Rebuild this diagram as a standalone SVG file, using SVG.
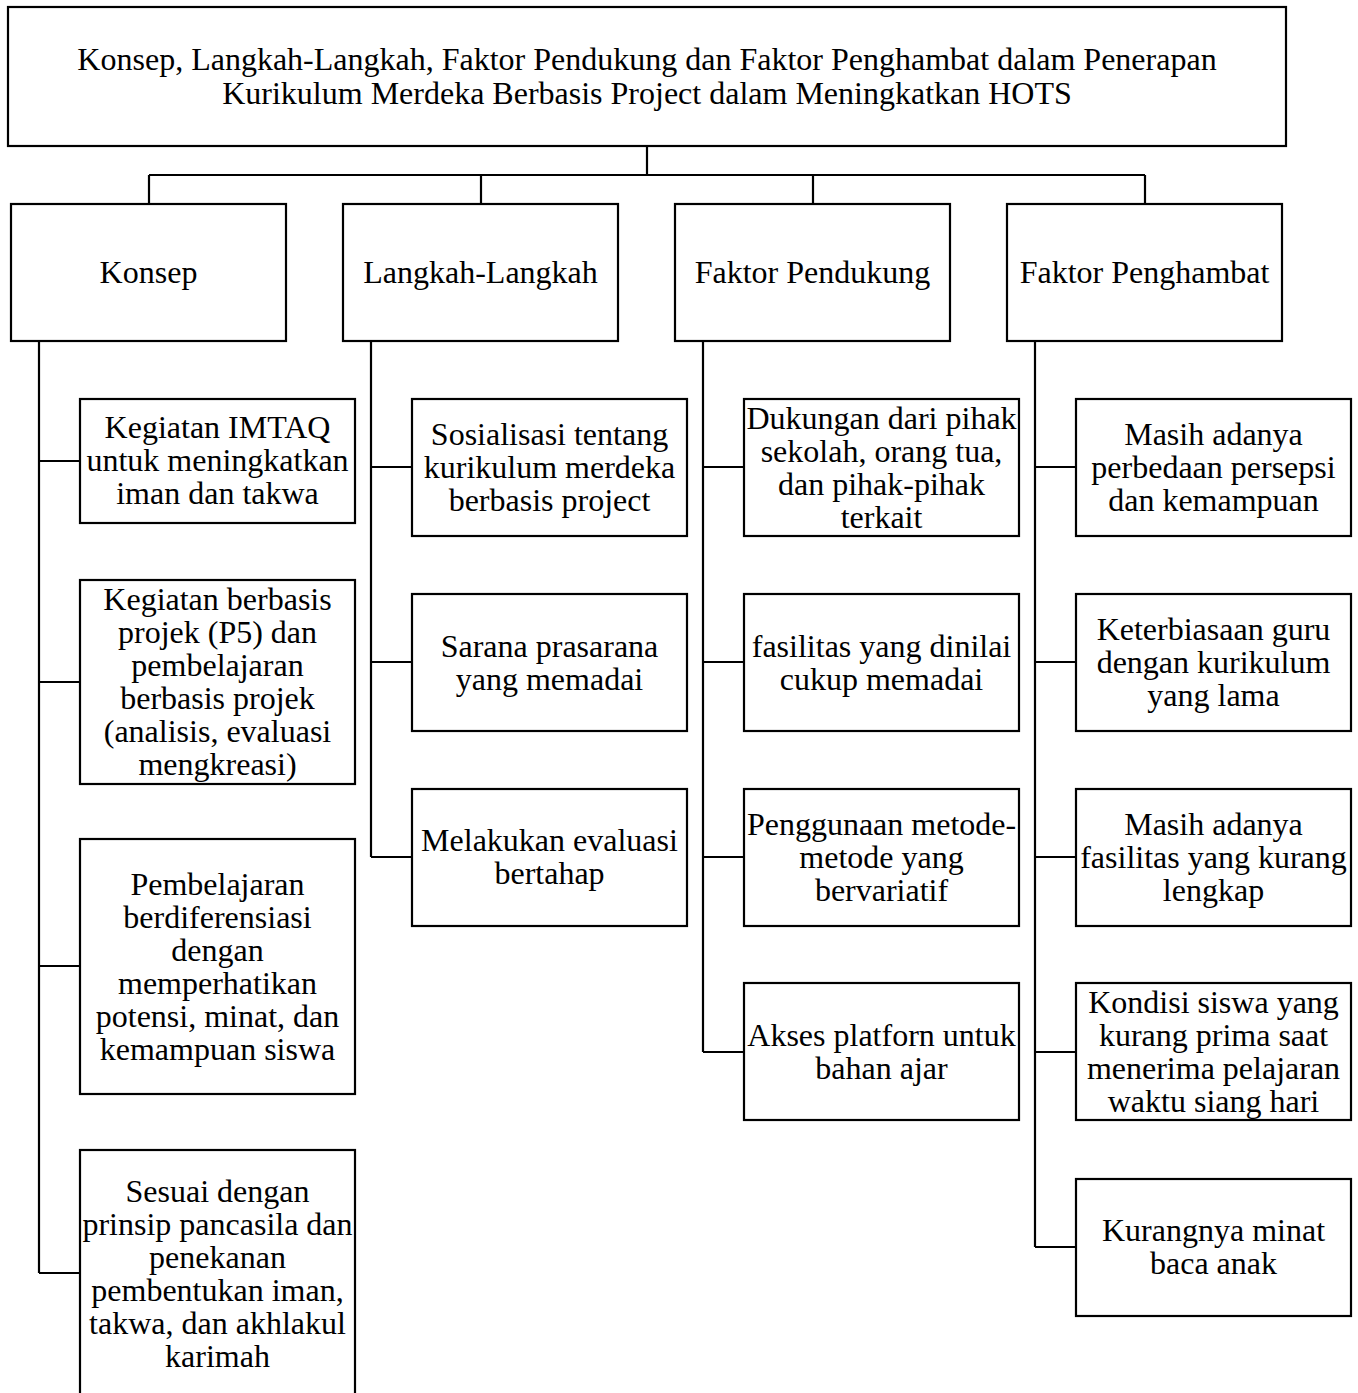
<svg xmlns="http://www.w3.org/2000/svg" width="1358" height="1393" viewBox="0 0 1358 1393">
<style>
rect{fill:#fff;stroke:#000;stroke-width:2.2}
text{font-family:"Liberation Serif","Times New Roman",serif;font-size:32px;fill:#000;text-anchor:middle}
#connectors path{fill:none;stroke:#000;stroke-width:2.2}
</style>
<rect x="0" y="0" width="1358" height="1393" style="stroke:none"/>
<g id="connectors">
<path d="M647 146V175M149 175H1145M149 175V204M481 175V204M813 175V204M1145 175V204"/>
<path d="M39 341V1273M39 461H80M39 682H80M39 966H80M39 1273H80"/>
<path d="M371 341V857M371 467H412M371 662H412M371 857H412"/>
<path d="M703 341V1052M703 467H744M703 662H744M703 857H744M703 1052H744"/>
<path d="M1035 341V1247M1035 467H1076M1035 662H1076M1035 857H1076M1035 1052H1076M1035 1247H1076"/>
</g>
<g id="root"><rect x="8" y="7" width="1278" height="139"/>
<text x="647" y="70">Konsep, Langkah-Langkah, Faktor Pendukung dan Faktor Penghambat dalam Penerapan</text>
<text x="647" y="104">Kurikulum Merdeka Berbasis Project dalam Meningkatkan HOTS</text></g>
<g id="konsep"><rect x="11" y="204" width="275" height="137"/><text x="148.5" y="283">Konsep</text></g>
<g id="langkah"><rect x="343" y="204" width="275" height="137"/><text x="480.5" y="283">Langkah-Langkah</text></g>
<g id="pendukung"><rect x="675" y="204" width="275" height="137"/><text x="812.5" y="283">Faktor Pendukung</text></g>
<g id="penghambat"><rect x="1007" y="204" width="275" height="137"/><text x="1144.5" y="283">Faktor Penghambat</text></g>

<g id="k1"><rect x="80" y="399" width="275" height="124"/><text x="217.5" y="438">Kegiatan IMTAQ</text><text x="217.5" y="471">untuk meningkatkan</text><text x="217.5" y="504">iman dan takwa</text></g>
<g id="k2"><rect x="80" y="580" width="275" height="204"/><text x="217.5" y="610">Kegiatan berbasis</text><text x="217.5" y="643">projek (P5) dan</text><text x="217.5" y="676">pembelajaran</text><text x="217.5" y="709">berbasis projek</text><text x="217.5" y="742">(analisis, evaluasi</text><text x="217.5" y="775">mengkreasi)</text></g>
<g id="k3"><rect x="80" y="839" width="275" height="255"/><text x="217.5" y="895">Pembelajaran</text><text x="217.5" y="928">berdiferensiasi</text><text x="217.5" y="961">dengan</text><text x="217.5" y="994">memperhatikan</text><text x="217.5" y="1027">potensi, minat, dan</text><text x="217.5" y="1060">kemampuan siswa</text></g>
<g id="k4"><rect x="80" y="1150" width="275" height="248"/><text x="217.5" y="1202">Sesuai dengan</text><text x="217.5" y="1235">prinsip pancasila dan</text><text x="217.5" y="1268">penekanan</text><text x="217.5" y="1301">pembentukan iman,</text><text x="217.5" y="1334">takwa, dan akhlakul</text><text x="217.5" y="1367">karimah</text></g>

<g id="l1"><rect x="412" y="399" width="275" height="137"/><text x="549.5" y="445">Sosialisasi tentang</text><text x="549.5" y="478">kurikulum merdeka</text><text x="549.5" y="511">berbasis project</text></g>
<g id="l2"><rect x="412" y="594" width="275" height="137"/><text x="549.5" y="657">Sarana prasarana</text><text x="549.5" y="690">yang memadai</text></g>
<g id="l3"><rect x="412" y="789" width="275" height="137"/><text x="549.5" y="851">Melakukan evaluasi</text><text x="549.5" y="884">bertahap</text></g>

<g id="p1"><rect x="744" y="399" width="275" height="137"/><text x="881.5" y="429">Dukungan dari pihak</text><text x="881.5" y="462">sekolah, orang tua,</text><text x="881.5" y="495">dan pihak-pihak</text><text x="881.5" y="528">terkait</text></g>
<g id="p2"><rect x="744" y="594" width="275" height="137"/><text x="881.5" y="657">fasilitas yang dinilai</text><text x="881.5" y="690">cukup memadai</text></g>
<g id="p3"><rect x="744" y="789" width="275" height="137"/><text x="881.5" y="835">Penggunaan metode-</text><text x="881.5" y="868">metode yang</text><text x="881.5" y="901">bervariatif</text></g>
<g id="p4"><rect x="744" y="983" width="275" height="137"/><text x="881.5" y="1046">Akses platforn untuk</text><text x="881.5" y="1079">bahan ajar</text></g>

<g id="h1"><rect x="1076" y="399" width="275" height="137"/><text x="1213.5" y="445">Masih adanya</text><text x="1213.5" y="478">perbedaan persepsi</text><text x="1213.5" y="511">dan kemampuan</text></g>
<g id="h2"><rect x="1076" y="594" width="275" height="137"/><text x="1213.5" y="640">Keterbiasaan guru</text><text x="1213.5" y="673">dengan kurikulum</text><text x="1213.5" y="706">yang lama</text></g>
<g id="h3"><rect x="1076" y="789" width="275" height="137"/><text x="1213.5" y="835">Masih adanya</text><text x="1213.5" y="868">fasilitas yang kurang</text><text x="1213.5" y="901">lengkap</text></g>
<g id="h4"><rect x="1076" y="983" width="275" height="137"/><text x="1213.5" y="1013">Kondisi siswa yang</text><text x="1213.5" y="1046">kurang prima saat</text><text x="1213.5" y="1079">menerima pelajaran</text><text x="1213.5" y="1112">waktu siang hari</text></g>
<g id="h5"><rect x="1076" y="1179" width="275" height="137"/><text x="1213.5" y="1241">Kurangnya minat</text><text x="1213.5" y="1274">baca anak</text></g>
</svg>
